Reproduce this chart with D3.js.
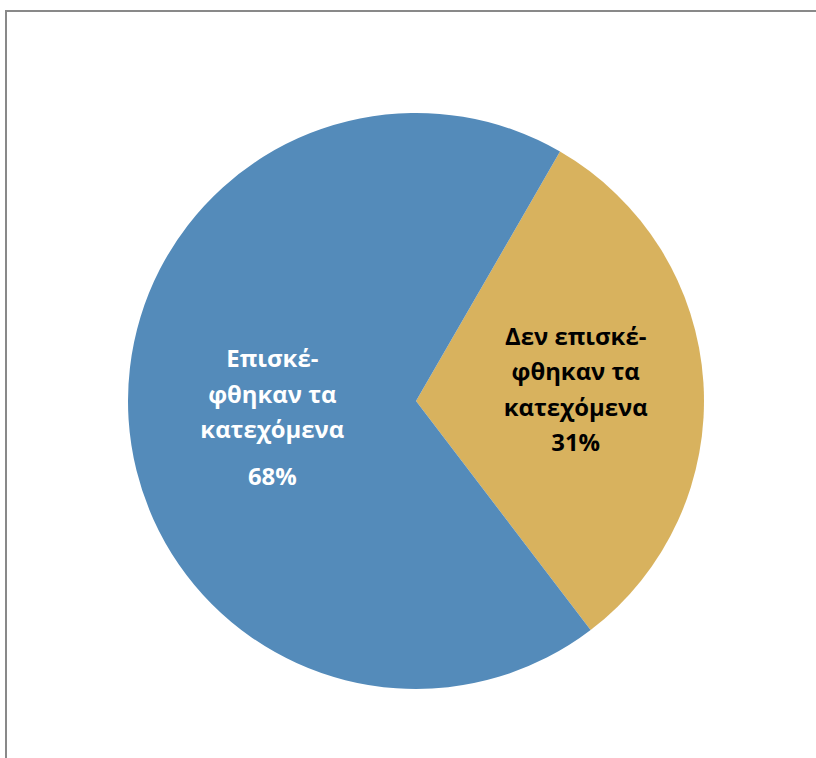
<!DOCTYPE html>
<html><head><meta charset="utf-8">
<script src="https://cdn.jsdelivr.net/npm/d3@7"></script>
<style>html,body{margin:0;padding:0;background:#fff;overflow:hidden}</style>
</head><body>
<script>
const categories = ["Δεν επισκέφθηκαν τα κατεχόμενα", "Επισκέφθηκαν τα κατεχόμενα"];
const values = [31.3, 68.7];
const percentLabels = ["31%", "68%"];
const labelLines = [["Δεν επισκέ-", "φθηκαν τα", "κατεχόμενα"], ["Επισκέ-", "φθηκαν τα", "κατεχόμενα"]];
const colors = ["#D8B25E", "#548BBA"];
const textColors = ["#000000", "#ffffff"];

const W = 816, H = 758;
const svg = d3.select("body").append("svg").attr("width", W).attr("height", H);

svg.append("rect").attr("x", 6).attr("y", 11).attr("width", 1000).attr("height", 1000)
  .attr("fill", "none").attr("stroke", "#898989").attr("stroke-width", 2);

const cx = 416, cy = 401, R = 288;
const start = 30 * Math.PI / 180;
const pie = d3.pie().sort(null).startAngle(start).endAngle(start + 2 * Math.PI);
const arcs = pie(values);
const arc = d3.arc().innerRadius(0).outerRadius(R);
const g = svg.append("g").attr("transform", `translate(${cx},${cy})`);
g.selectAll("path").data(arcs).enter().append("path")
  .attr("d", arc).attr("fill", (d, i) => colors[i]);

const labelR = [160, 144];
const yShift = [0, 9];
const font = "'Open Sans', 'DejaVu Sans', sans-serif";
const probe = svg.append("text").attr("font-family", font).attr("font-weight", "bold")
  .attr("font-size", 20).text("κατεχόμενα");
const w20 = probe.node().getComputedTextLength();
probe.remove();
const fs = 20 * 144 / w20;

arcs.forEach((d, i) => {
  const la = d3.arc().innerRadius(labelR[i]).outerRadius(labelR[i]);
  const [x, y] = la.centroid(d);
  const t = g.append("text").attr("text-anchor", "middle").attr("font-family", font)
    .attr("font-weight", "bold").attr("font-size", fs).attr("fill", textColors[i]);
  const lines = labelLines[i];
  const gap = i === 0 ? 35 : 47;
  const total = (lines.length - 1) * 35.5 + gap;
  const y0 = y - total / 2 + 7 + yShift[i];
  lines.forEach((ln, k) => {
    t.append("tspan").attr("x", x).attr("y", y0 + k * 35.5).text(ln);
  });
  t.append("tspan").attr("x", x).attr("y", y0 + (lines.length - 1) * 35.5 + gap).text(percentLabels[i]);
});
</script>
</body></html>
